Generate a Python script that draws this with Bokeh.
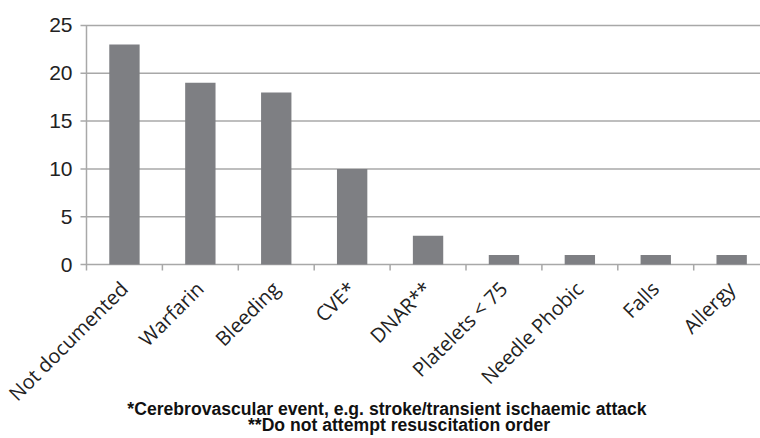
import math
from bokeh.plotting import figure
from bokeh.models import Range1d, Label
from bokeh.core.properties import value
from bokeh.embed import file_html
from bokeh.resources import INLINE

categories = ["Not documented", "Warfarin", "Bleeding", "CVE*", "DNAR**",
              "Platelets < 75", "Needle Phobic", "Falls", "Allergy"]
counts = [23, 19, 18, 10, 3, 1, 1, 1, 1]
y_ticks = [0, 5, 10, 15, 20, 25]
y_tick_labels = ["0", "5", "10", "15", "20", "25"]
footnotes = ["*Cerebrovascular event, e.g. stroke/transient ischaemic attack",
             "**Do not attempt resuscitation order"]

n = len(categories)
centers = [i + 0.5 for i in range(n)]
bounds = list(range(n + 1))
GRID = "#a8a8a8"
X_END = 8.88
TICK = 0.079          # 6 px in x data units
TICK_Y = 0.63         # 6 px in y data units

# the frame covers the whole canvas so that every label stays visible
p = figure(width=760, height=438, output_backend="svg", toolbar_location=None,
           x_range=Range1d(-1.133, X_END), y_range=Range1d(-18.2, 27.615),
           min_border=0)
p.outline_line_color = None
p.background_fill_color = "white"
p.border_fill_color = "white"
p.axis.visible = False
p.grid.visible = False

# value gridlines (with their outer tick marks) and the value axis line
p.segment(x0=[-TICK] * len(y_ticks), y0=y_ticks, x1=[X_END] * len(y_ticks),
          y1=y_ticks, line_color=GRID, line_width=1.5)
p.segment(x0=[0], y0=[y_ticks[0]], x1=[0], y1=[y_ticks[-1]],
          line_color=GRID, line_width=1.5)
p.text(x=[0] * len(y_ticks), y=y_ticks, text=y_tick_labels, x_offset=-14,
       text_align="right", text_baseline="middle",
       text_font=value("Liberation Sans"), text_font_size=value("21px"),
       text_color="#222222")

# bars
p.vbar(x=centers, top=counts, width=0.4, bottom=0,
       fill_color="#7e7f83", line_color=None)

# category axis: boundary tick marks and rotated labels
p.segment(x0=bounds, y0=[0] * len(bounds), x1=bounds, y1=[-TICK_Y] * len(bounds),
          line_color=GRID, line_width=1.5)
p.text(x=centers, y=[0] * n, text=categories, angle=math.pi / 4,
       x_offset=-10, y_offset=11, text_align="right", text_baseline="top",
       text_font=value("Open Sans"), text_font_size=value("20px"),
       text_color="#222222")

# footnotes
for txt, xc, yc in zip(footnotes, [3.959, 4.117], [-15.12, -16.79]):
    p.add_layout(Label(x=xc, y=yc, text=txt, text_align="center",
                       text_baseline="middle", text_font="Liberation Sans",
                       text_font_style="bold", text_font_size="17.6px",
                       text_color="#111111"))

open("out.html", "w").write(file_html(p, INLINE))
